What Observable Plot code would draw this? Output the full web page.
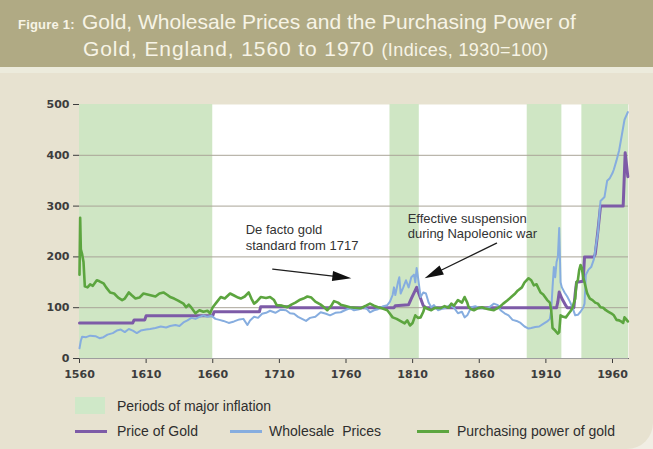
<!DOCTYPE html>
<html>
<head>
<meta charset="utf-8">
<script src="https://cdn.jsdelivr.net/npm/d3@7"></script>
<script src="https://cdn.jsdelivr.net/npm/@observablehq/plot@0.6"></script>
<style>
  html, body { margin: 0; padding: 0; }
  body { width: 653px; height: 449px; overflow: hidden; background: #f1eee4; font-family: "Liberation Sans", Arial, sans-serif; }
  #panel { position: absolute; left: 0; top: 0; width: 653px; height: 449px; background: #e7e2d0; border-bottom-right-radius: 26px; overflow: hidden; }
  #band { position: absolute; left: 0; top: 0; width: 653px; height: 67px; background: #b0aa84; color: #f7f4e6; }
  #strip { position: absolute; left: 0; top: 67px; width: 653px; height: 6px; background: #ecebdc; }
  .t1 { position: absolute; left: 18px; top: 8px; font-size: 21px; line-height: 27px; white-space: nowrap; }
  .t2 { position: absolute; left: 83px; top: 35px; font-size: 21px; line-height: 27px; white-space: nowrap; letter-spacing: 0.9px; }
  .fig { display: inline-block; width: 64px; font-size: 13px; font-weight: bold; letter-spacing: 0.2px; }
  .small { font-size: 18px; letter-spacing: 0.4px; }
  #chart { position: absolute; left: 0; top: 72px; }
  .lg { position: absolute; font-size: 14px; line-height: 16px; color: #2e2e2e; white-space: nowrap; }
  .sw { position: absolute; }
</style>
</head>
<body>
<div id="panel">
  <div id="band">
    <div class="t1"><span class="fig">Figure 1:</span>Gold, Wholesale Prices and the Purchasing Power of</div>
    <div class="t2">Gold, England, 1560 to 1970 <span class="small">(Indices, 1930=100)</span></div>
  </div>
  <div id="strip"></div>
  <div id="chart"></div>
  <div id="legend"></div>
</div>
<script>
// Periods of major inflation
const bandStart = [1560, 1793, 1896, 1937];
const bandEnd   = [1660, 1815, 1922, 1972];

// Price of gold, index 1930 = 100
const priceOfGold = [
  [1560,70],[1600,70],[1601,76],[1609,76],[1610,84],[1660,84],[1661,92],[1695,92],[1696,102],
  [1717,102],[1718,100],[1796,100],[1797,104],[1807,106],[1809,118],[1813,140],[1816,118],
  [1818,104],[1820,100],[1918,100],[1919,112],[1920,131],[1922,118],[1925,104],[1926,100],
  [1931,100],[1932,128],[1933,150],[1938,152],[1939,200],[1946,200],[1947,205],[1949,250],
  [1951,300],[1968,300],[1969.5,405],[1971.5,358]
];

// Wholesale prices, index 1930 = 100
const wholesalePrices = [
  [1560,20],[1561,35],[1562,43],[1565,42],[1568,45],[1572,44],[1575,40],[1578,42],[1581,47],
  [1585,50],[1588,55],[1591,57],[1594,52],[1597,58],[1600,55],[1603,50],[1606,55],[1610,57],
  [1613,58],[1617,60],[1621,63],[1625,61],[1628,64],[1632,66],[1635,64],[1638,71],[1641,75],
  [1644,80],[1647,78],[1650,82],[1653,85],[1656,82],[1659,84],[1662,78],[1665,76],[1668,74],
  [1672,70],[1676,73],[1680,77],[1683,78],[1686,66],[1688,75],[1691,82],[1694,80],[1697,88],
  [1700,90],[1703,94],[1707,90],[1711,96],[1715,95],[1718,89],[1721,88],[1724,82],[1727,78],
  [1730,74],[1733,80],[1737,82],[1741,91],[1745,88],[1748,85],[1752,90],[1756,91],[1760,96],
  [1763,99],[1766,95],[1770,97],[1773,101],[1776,97],[1778,91],[1781,95],[1784,97],[1788,103],
  [1791,105],[1793,112],[1795,125],[1796,140],[1797,125],[1799,150],[1800,160],[1801,128],
  [1803,140],[1805,154],[1807,140],[1809,160],[1811,165],[1812,150],[1813,178],[1814,160],
  [1816,121],[1818,130],[1820,128],[1822,110],[1824,101],[1826,105],[1829,95],[1832,98],
  [1835,100],[1838,105],[1841,100],[1844,89],[1847,92],[1849,81],[1851,85],[1854,101],
  [1857,103],[1860,99],[1864,99],[1867,100],[1871,108],[1874,105],[1876,95],[1879,89],
  [1882,85],[1885,76],[1888,74],[1891,70],[1894,63],[1897,59],[1899,60],[1902,62],[1905,63],
  [1908,68],[1911,73],[1913,78],[1914,95],[1915,140],[1916,180],[1917,160],[1918,190],
  [1919,200],[1920,257],[1921,150],[1922,140],[1924,130],[1926,122],[1928,112],[1930,100],
  [1932,85],[1934,86],[1936,92],[1938,100],[1939,108],[1940,165],[1942,175],[1944,180],
  [1946,195],[1948,230],[1949,247],[1951,310],[1954,318],[1956,350],[1958,355],[1960,365],
  [1961,372],[1963,390],[1965,410],[1967,440],[1969,470],[1971.5,485]
];

// Purchasing power of gold, index 1930 = 100
const purchasingPower = [
  [1560,165],[1560.5,277],[1561,215],[1562,205],[1563,190],[1564,142],[1566,140],[1568,146],
  [1570,143],[1573,154],[1575,152],[1578,148],[1580,140],[1583,130],[1586,128],[1589,120],
  [1592,115],[1594,118],[1597,130],[1599,125],[1602,118],[1605,120],[1608,128],[1611,126],
  [1614,124],[1617,122],[1620,128],[1623,130],[1626,125],[1628,121],[1631,118],[1634,114],
  [1636,111],[1638,108],[1640,101],[1642,106],[1644,100],[1647,89],[1650,95],[1653,92],
  [1656,94],[1658,89],[1660,101],[1663,111],[1666,121],[1669,118],[1673,128],[1676,124],
  [1679,120],[1681,118],[1684,122],[1687,130],[1689,118],[1691,108],[1693,112],[1696,121],
  [1700,119],[1703,121],[1706,115],[1708,105],[1712,104],[1716,101],[1719,106],[1722,110],
  [1725,115],[1728,118],[1731,122],[1734,120],[1737,112],[1741,106],[1744,100],[1746,95],
  [1749,104],[1751,113],[1754,110],[1756,106],[1759,104],[1763,101],[1767,100],[1771,99],
  [1775,104],[1778,108],[1781,104],[1784,101],[1787,99],[1791,95],[1793,88],[1795,81],
  [1798,78],[1800,75],[1802,72],[1804,69],[1806,75],[1808,65],[1810,70],[1812,85],[1814,80],
  [1816,81],[1818,92],[1819,101],[1821,98],[1824,95],[1827,100],[1831,99],[1834,103],
  [1837,100],[1839,108],[1841,104],[1844,115],[1847,110],[1849,121],[1851,110],[1852,101],
  [1854,97],[1856,95],[1859,99],[1862,101],[1864,99],[1867,97],[1871,95],[1873,98],[1875,101],
  [1878,108],[1881,114],[1884,121],[1887,128],[1889,134],[1892,140],[1894,150],[1897,158],
  [1899,154],[1901,144],[1903,146],[1906,130],[1908,126],[1911,115],[1913,110],[1914,95],
  [1915,60],[1917,55],[1919,49],[1920,52],[1921,85],[1923,82],[1925,81],[1927,88],[1929,95],
  [1930,100],[1932,118],[1933,150],[1934,154],[1935,174],[1936,184],[1937,178],[1938,160],
  [1939,150],[1941,128],[1943,118],[1945,115],[1947,110],[1949,108],[1951,101],[1953,100],
  [1955,95],[1957,92],[1959,89],[1961,85],[1963,76],[1965,75],[1967,72],[1968,70],[1969,81],
  [1970,78],[1971.5,73]
];

// Annotations: label text, label anchor, arrow start and arrow tip
const noteText = ["De facto gold\nstandard from 1717", "Effective suspension\nduring Napoleonic war"];
const noteAt   = [[1684.7, 239], [1806.3, 262]];
const arrowFrom = [[1705, 176], [1873, 227]];
const arrowTo   = [[1764, 158], [1819, 158]];

const xTicks = [1560, 1610, 1660, 1710, 1760, 1810, 1860, 1910, 1960];
const yTicks = [0, 100, 200, 300, 400, 500];

const W = 653, H = 318, ML = 79, MR = 25, MT = 32, MB = 32;
const X0 = 1560, X1 = 1972, Y0 = 0, Y1 = 500;
const kx = (W - ML - MR) / (X1 - X0);
const ky = (H - MT - MB) / (Y1 - Y0);

const bands = bandStart.map((s, i) => ({start: s, end: bandEnd[i]}));
const notes = noteText.map((t, i) => ({text: t, x: noteAt[i][0], y: noteAt[i][1]}));
const arrows = arrowFrom.map((a, i) => {
  const b = arrowTo[i];
  const dx = (b[0] - a[0]) * kx, dy = -(b[1] - a[1]) * ky;
  return {x1: a[0], y1: a[1], x2: b[0], y2: b[1], angle: Math.atan2(dx, -dy) * 180 / Math.PI};
});

// Filled arrowhead with its tip at the origin, pointing up before rotation
const arrowHead = {
  draw(ctx) {
    ctx.moveTo(0, 0);
    ctx.lineTo(-5, 19);
    ctx.lineTo(5, 19);
    ctx.closePath();
  }
};

const px = d => d[0], py = d => d[1];

const chart = Plot.plot({
  width: W, height: H,
  marginLeft: ML, marginRight: MR, marginTop: MT, marginBottom: MB,
  style: {background: "transparent", fontFamily: "DejaVu Sans", fontSize: "11px", fontWeight: "bold", color: "#3d3d3d", overflow: "visible"},
  x: {domain: [X0, X1], ticks: xTicks, tickFormat: d => String(d), tickSize: 5, tickPadding: 7, line: true, label: null},
  y: {domain: [Y0, Y1], ticks: yTicks, tickSize: 6, tickPadding: 4, line: true, label: null},
  marks: [
    Plot.frame({fill: "white", stroke: null}),
    Plot.rect(bands, {x1: "start", x2: "end", y1: Y0, y2: Y1, fill: "#cfe6c4"}),
    Plot.ruleY([100, 200, 300, 400], {stroke: "#a9a498", strokeWidth: 1}),
    Plot.line(priceOfGold, {x: px, y: py, stroke: "#7d5ba7", strokeWidth: 3}),
    Plot.line(wholesalePrices, {x: px, y: py, stroke: "#86addf", strokeWidth: 2}),
    Plot.line(purchasingPower, {x: px, y: py, stroke: "#5ca53f", strokeWidth: 2.6}),
    Plot.arrow(arrows, {x1: "x1", y1: "y1", x2: "x2", y2: "y2", stroke: "#1e1e1e", strokeWidth: 1.3, headLength: 0, insetEnd: 12}),
    Plot.dot(arrows, {x: "x2", y: "y2", symbol: arrowHead, rotate: "angle", fill: "#111", stroke: null}),
    Plot.text(notes, {x: "x", y: "y", text: "text", textAnchor: "start", lineHeight: 1.22, fontSize: 13, fontFamily: "Liberation Sans", fontWeight: "normal", fill: "#333"})
  ]
});
document.getElementById("chart").appendChild(chart);

// Legend below the chart
const legend = document.getElementById("legend");
function add(html, style, cls) {
  const el = document.createElement("div");
  el.className = cls;
  el.innerHTML = html;
  Object.assign(el.style, style);
  legend.appendChild(el);
}
add("", {left: "75px", top: "397px", width: "30px", height: "17px", background: "#cfe8c8"}, "sw");
add("Periods of major inflation", {left: "117px", top: "398px"}, "lg");
const series = [
  ["Price of Gold", "#7d5ba7", 75, 117],
  ["Wholesale&nbsp; Prices", "#86addf", 230, 269],
  ["Purchasing power of gold", "#5ca53f", 417, 457]
];
series.forEach(([label, color, sx, tx]) => {
  add("", {left: sx + "px", top: "430px", width: "32px", height: "3px", background: color}, "sw");
  add(label, {left: tx + "px", top: "423px"}, "lg");
});
</script>
</body>
</html>
